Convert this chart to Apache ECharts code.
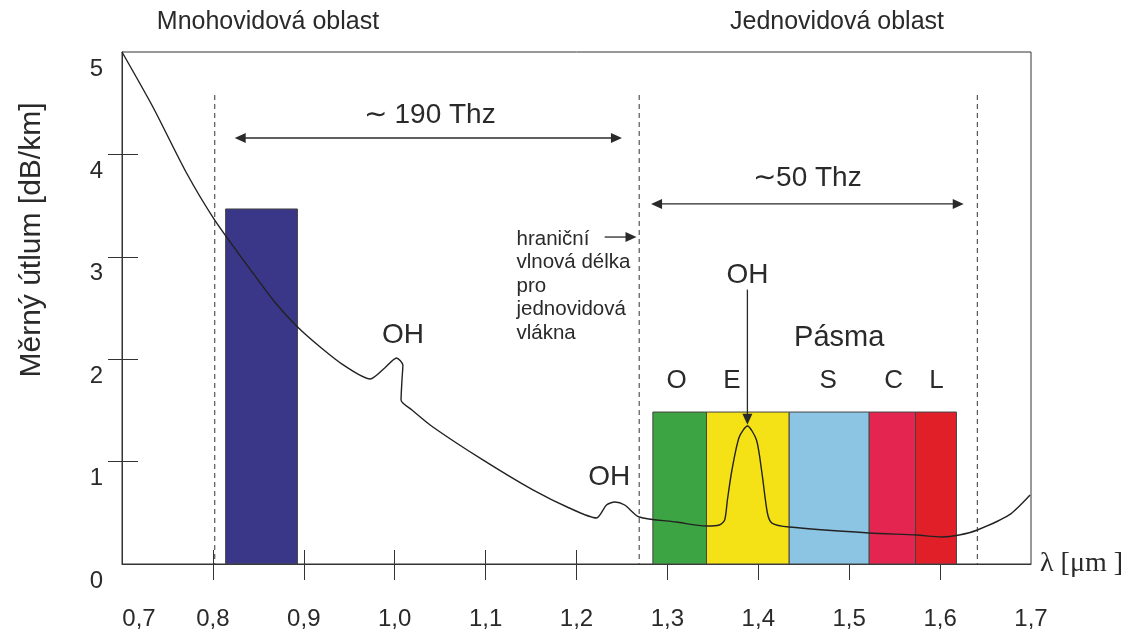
<!DOCTYPE html>
<html><head><meta charset="utf-8">
<script src="https://cdn.jsdelivr.net/npm/echarts@6/dist/echarts.min.js"></script>
<style>html,body{margin:0;padding:0;background:#fff}#c{width:1134px;height:634px}</style>
</head><body><div id="c"></div>
<script>
// ---- data ----
const xTickValues = [0.8, 0.9, 1.0, 1.1, 1.2, 1.3, 1.4, 1.5, 1.6];
const xLabelValues = [0.7, 0.8, 0.9, 1.0, 1.1, 1.2, 1.3, 1.4, 1.5, 1.6, 1.7];
const yTickValues = [1, 2, 3, 4];
const yLabelValues = [0, 1, 2, 3, 4, 5];

const curveLambda = [0.700,0.734,0.771,0.802,0.844,0.868,0.892,0.918,0.945,0.973,0.989,1.002,1.009,1.008,1.007,
  1.019,1.042,1.097,1.152,1.192,1.222,1.233,1.242,1.253,1.269,1.310,1.343,1.357,1.363,1.366,1.371,1.379,1.388,
  1.398,1.404,1.410,1.415,1.434,1.522,1.574,1.602,1.621,1.641,1.676,1.699];
const curveAtt = [5.000,4.463,3.818,3.359,2.842,2.559,2.324,2.119,1.934,1.807,1.914,2.012,1.943,1.797,1.602,
  1.504,1.338,1.016,0.723,0.547,0.449,0.576,0.605,0.576,0.459,0.410,0.371,0.381,0.430,0.625,0.918,1.240,1.348,
  1.211,0.889,0.498,0.400,0.361,0.303,0.283,0.264,0.283,0.332,0.479,0.674];

const mmBandStart = 0.814, mmBandEnd = 0.893, mmBandHeight = 3.467;
const bandNames = ['O', 'E', 'S', 'C', 'L'];
const bandStart = [1.284, 1.343, 1.434, 1.522, 1.573];
const bandEnd   = [1.343, 1.434, 1.522, 1.573, 1.618];
const bandHeight = 1.484;
const bandColors = ['#3ca443', '#f5e216', '#8cc5e3', '#e3254f', '#e11f29'];

const dashedLambda = [0.802, 1.269, 1.641];
const dashedTop = 4.58;

// arrows: [from λ, to λ, att, both heads]
const hArrows = [[0.824, 1.250, 4.16, 1], [1.282, 1.626, 3.516, 1], [1.231, 1.266, 3.193, 0]];
// vertical arrow: [λ, from att, to att]
const vArrows = [[1.388, 2.68, 1.36]];

// annotations: [λ, att, text, size]
const notes = [
  [1.0385, 4.385, '∼ 190 Thz', 28],
  [1.454, 3.77, '∼50 Thz', 28],
  [1.009, 2.236, 'OH', 28],
  [1.236, 0.85, 'OH', 28],
  [1.388, 2.822, 'OH', 28],
  [1.489, 2.207, 'Pásma', 29],
  [1.310, 1.787, 'O', 26],
  [1.371, 1.787, 'E', 26],
  [1.477, 1.787, 'S', 26],
  [1.549, 1.787, 'C', 26],
  [1.596, 1.787, 'L', 26]
];
const cutoffNote = [1.134, 3.290, 'hraniční\nvlnová délka\npro\njednovidová\nvlákna'];

const titleLeft = 'Mnohovidová oblast';
const titleRight = 'Jednovidová oblast';
const yName = 'Měrný útlum [dB/km]';
const xName = 'λ [μm ]';

// ---- chart ----
const FONT = 'Liberation Sans, Arial, sans-serif';
const INK = '#2a2a2a';
const chart = echarts.init(document.getElementById('c'), null, {renderer: 'canvas'});

const fmtX = v => {
  const s = v.toFixed(1).replace('.', ',');
  return Math.abs(v - 0.7) < 1e-6 ? '{a|' + s + '}' : s;
};

const rectData = [[mmBandStart, mmBandEnd, mmBandHeight, '#3a3688']];
for (let i = 0; i < bandNames.length; i++) rectData.push([bandStart[i], bandEnd[i], bandHeight, bandColors[i]]);

function arrowHead(tip, dx, dy) {
  const L = 11, W = 5;
  const bx = tip[0] - dx * L, by = tip[1] - dy * L;
  return {type: 'polygon', shape: {points: [tip, [bx - dy * W, by + dx * W], [bx + dy * W, by - dx * W]]},
    style: {fill: INK}};
}

const option = {
  animation: false,
  backgroundColor: '#fff',
  grid: {left: 122, right: 103, top: 52, bottom: 70, show: true, borderColor: '#333', borderWidth: 1},
  xAxis: [{
    type: 'value', min: 0.7, max: 1.7, interval: 0.1,
    axisLine: {show: true, onZero: false, lineStyle: {color: '#333', width: 1}},
    axisTick: {show: true, length: 16, customValues: xTickValues, lineStyle: {color: '#333'}},
    axisLabel: {show: true, customValues: xLabelValues, formatter: fmtX, margin: 43, fontSize: 24,
      fontFamily: FONT, color: INK, rich: {a: {fontSize: 24, fontFamily: FONT, color: INK, padding: [0, 0, 0, 34]}}},
    splitLine: {show: false},
    name: xName, nameLocation: 'end', nameGap: 9,
    nameTextStyle: {fontFamily: 'Liberation Serif, DejaVu Serif, serif', fontSize: 28, color: INK, verticalAlign: 'middle'}
  }, {
    type: 'value', min: 0.7, max: 1.7, interval: 0.1, position: 'bottom',
    axisLine: {show: false},
    axisTick: {show: true, inside: true, length: 14, customValues: xTickValues, lineStyle: {color: '#333'}},
    axisLabel: {show: false}, splitLine: {show: false}
  }],
  yAxis: [{
    type: 'value', min: 0, max: 5, interval: 1,
    axisLine: {show: true, onZero: false, lineStyle: {color: '#333', width: 1}},
    axisTick: {show: true, length: 14, customValues: yTickValues, lineStyle: {color: '#333'}},
    axisLabel: {show: true, customValues: yLabelValues, margin: 19, fontSize: 24, fontFamily: FONT, color: INK,
      verticalAlign: 'top', lineHeight: 34},
    splitLine: {show: false}
  }, {
    type: 'value', min: 0, max: 5, interval: 1, position: 'left', offset: 0,
    axisLine: {show: false},
    axisTick: {show: true, inside: true, length: 16, customValues: yTickValues, lineStyle: {color: '#333'}},
    axisLabel: {show: false}, splitLine: {show: false}
  }],
  graphic: [
    {type: 'text', x: 268, y: 22, style: {text: titleLeft, fontSize: 25, fontFamily: FONT, fill: INK, align: 'center', verticalAlign: 'middle'}},
    {type: 'text', x: 837, y: 22, style: {text: titleRight, fontSize: 25, fontFamily: FONT, fill: INK, align: 'center', verticalAlign: 'middle'}},
    {type: 'text', x: 32, y: 240, rotation: Math.PI / 2,
      style: {text: yName, fontSize: 30, fontFamily: FONT, fill: INK, align: 'center', verticalAlign: 'middle'}}
  ],
  series: [
    {
      type: 'custom', z: 1, data: rectData,
      renderItem: (params, api) => {
        const p0 = api.coord([api.value(0), api.value(2)]);
        const p1 = api.coord([api.value(1), 0]);
        return {type: 'rect', shape: {x: p0[0], y: p0[1], width: p1[0] - p0[0], height: p1[1] - p0[1]},
          style: {fill: rectData[params.dataIndex][3], stroke: '#444', lineWidth: 1}};
      }
    },
    {
      type: 'custom', z: 2, data: dashedLambda.map(v => [v, dashedTop]),
      renderItem: (params, api) => {
        const a = api.coord([api.value(0), api.value(1)]);
        const b = api.coord([api.value(0), 0]);
        return {type: 'line', shape: {x1: a[0], y1: a[1], x2: b[0], y2: b[1]},
          style: {stroke: '#555', lineWidth: 1.2, lineDash: [5, 4]}};
      }
    },
    {
      type: 'line', z: 5, data: curveLambda.map((v, i) => [v, curveAtt[i]]),
      showSymbol: false, symbol: 'none', smooth: 0.25, smoothMonotone: 'none',
      lineStyle: {color: '#222', width: 1.4}
    },
    {
      type: 'custom', z: 6, data: hArrows,
      renderItem: (params, api) => {
        const a = api.coord([api.value(0), api.value(2)]);
        const b = api.coord([api.value(1), api.value(2)]);
        const both = api.value(3) === 1;
        const children = [{type: 'line', shape: {x1: both ? a[0] + 6 : a[0], y1: a[1], x2: b[0] - 6, y2: b[1]},
          style: {stroke: INK, lineWidth: 1.3}}];
        children.push(arrowHead(b, 1, 0));
        if (both) children.push(arrowHead(a, -1, 0));
        return {type: 'group', children};
      }
    },
    {
      type: 'custom', z: 6, data: vArrows,
      renderItem: (params, api) => {
        const a = api.coord([api.value(0), api.value(1)]);
        const b = api.coord([api.value(0), api.value(2)]);
        return {type: 'group', children: [
          {type: 'line', shape: {x1: a[0], y1: a[1], x2: b[0], y2: b[1] - 6}, style: {stroke: INK, lineWidth: 1.3}},
          arrowHead(b, 0, 1)
        ]};
      }
    },
    {
      type: 'custom', z: 7, data: notes,
      renderItem: (params, api) => {
        const p = api.coord([api.value(0), api.value(1)]);
        const n = notes[params.dataIndex];
        return {type: 'text', x: p[0], y: p[1],
          style: {text: n[2], fontSize: n[3], fontFamily: FONT, fill: INK, align: 'center', verticalAlign: 'middle'}};
      }
    },
    {
      type: 'custom', z: 7, data: [cutoffNote],
      renderItem: (params, api) => {
        const p = api.coord([api.value(0), api.value(1)]);
        return {type: 'text', x: p[0], y: p[1],
          style: {text: cutoffNote[2], fontSize: 20.5, lineHeight: 23.5, fontFamily: FONT, fill: INK, align: 'left', verticalAlign: 'top'}};
      }
    }
  ]
};
chart.setOption(option);
</script>
</body></html>
